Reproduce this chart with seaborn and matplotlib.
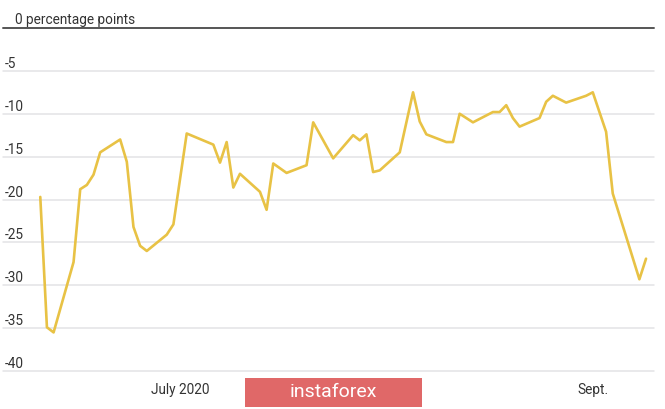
import numpy as np
import pandas as pd
import matplotlib.pyplot as plt
from matplotlib.patches import Rectangle
import seaborn as sns

# data (daily points, percentage points)
dates = ['2020-06-10', '2020-06-11', '2020-06-12', '2020-06-15', '2020-06-16',
         '2020-06-17', '2020-06-18', '2020-06-19', '2020-06-22', '2020-06-23',
         '2020-06-24', '2020-06-25', '2020-06-26', '2020-06-29', '2020-06-30',
         '2020-07-02', '2020-07-06', '2020-07-07', '2020-07-08', '2020-07-09',
         '2020-07-10', '2020-07-13', '2020-07-14', '2020-07-15', '2020-07-17',
         '2020-07-20', '2020-07-21', '2020-07-24', '2020-07-27', '2020-07-28',
         '2020-07-29', '2020-07-30', '2020-07-31', '2020-08-03', '2020-08-05',
         '2020-08-06', '2020-08-07', '2020-08-10', '2020-08-11', '2020-08-12',
         '2020-08-14', '2020-08-17', '2020-08-18', '2020-08-19', '2020-08-20',
         '2020-08-21', '2020-08-24', '2020-08-25', '2020-08-26', '2020-08-28',
         '2020-08-31', '2020-09-01', '2020-09-03', '2020-09-04', '2020-09-08',
         '2020-09-09']
values = [-19.7, -34.9, -35.5, -27.3, -18.8, -18.3, -17.1, -14.5, -13.0, -15.6,
          -23.2, -25.4, -26.0, -24.1, -22.9, -12.3, -13.6, -15.7, -13.3, -18.6,
          -17.0, -19.1, -21.2, -15.8, -16.9, -16.0, -11.0, -15.2, -12.5, -13.1,
          -12.4, -16.8, -16.6, -14.5, -7.5, -10.9, -12.4, -13.3, -13.3, -10.0,
          -11.0, -9.8, -9.8, -9.0, -10.5, -11.5, -10.5, -8.6, -7.9, -8.7,
          -7.9, -7.5, -12.1, -19.3, -29.3, -26.9]

y_ticks = [0, -5, -10, -15, -20, -25, -30, -35, -40]
y_labels = ['', '-5', '-10', '-15', '-20', '-25', '-30', '-35', '-40']
unit_label = '0 percentage points'
x_ticks = ['2020-07-01', '2020-08-01', '2020-09-01']
x_labels = ['July 2020', '', 'Sept.']  # Aug. label sits under the banner

df = pd.DataFrame({'date': pd.to_datetime(dates), 'value': values})

sns.set_style('white')
plt.rcParams['font.family'] = ['Roboto', 'DejaVu Sans']

fig = plt.figure(figsize=(6.65, 4.09), dpi=100)
ax = fig.add_axes([0.0045, 0.0929, 0.979, 0.8386])

sns.lineplot(data=df, x='date', y='value', color='#e8c245', linewidth=1.9, ax=ax, zorder=3)

jul1 = pd.Timestamp('2020-07-01')
ax.set_xlim(jul1 - pd.Timedelta(days=26.6), jul1 + pd.Timedelta(days=71.2))
ax.set_ylim(-40, 0)

# grid
for t in y_ticks[1:]:
    ax.axhline(t, color='#e3e3e6', linewidth=1.1, zorder=1, clip_on=False)
ax.axhline(0, color='#555555', linewidth=1.4, zorder=2, clip_on=False)

for s in ax.spines.values():
    s.set_visible(False)

ax.set_yticks(y_ticks)
ax.set_yticklabels(y_labels)
ax.tick_params(axis='y', length=0, pad=-1, labelsize=9.8, labelcolor='#333333')
for lab in ax.get_yticklabels():
    lab.set_horizontalalignment('left')
    lab.set_verticalalignment('bottom')

# unit label on the zero line, indented a little like the original
trans = ax.get_yaxis_transform()
ax.annotate(unit_label, xy=(0, y_ticks[0]), xycoords=trans, xytext=(9, 0.5),
            textcoords='offset points', ha='left', va='bottom',
            fontsize=9.8, color='#333333')

ax.set_xticks(pd.to_datetime(x_ticks))
ax.set_xticklabels(x_labels)
ax.tick_params(axis='x', direction='out', length=3.5, width=1, color='#444444',
               pad=5, labelsize=9.8, labelcolor='#333333')
ax.set_xlabel('')
ax.set_ylabel('')

# watermark banner
fig.patches.append(Rectangle((0.368, 0.005), 0.266, 0.071, transform=fig.transFigure,
                             facecolor='#e06868', edgecolor='none', zorder=5))
fig.text(0.5008, 0.0405, 'instaforex', color='white', fontsize=14,
         ha='center', va='center', zorder=6)

fig.savefig('out.png', dpi=100)
